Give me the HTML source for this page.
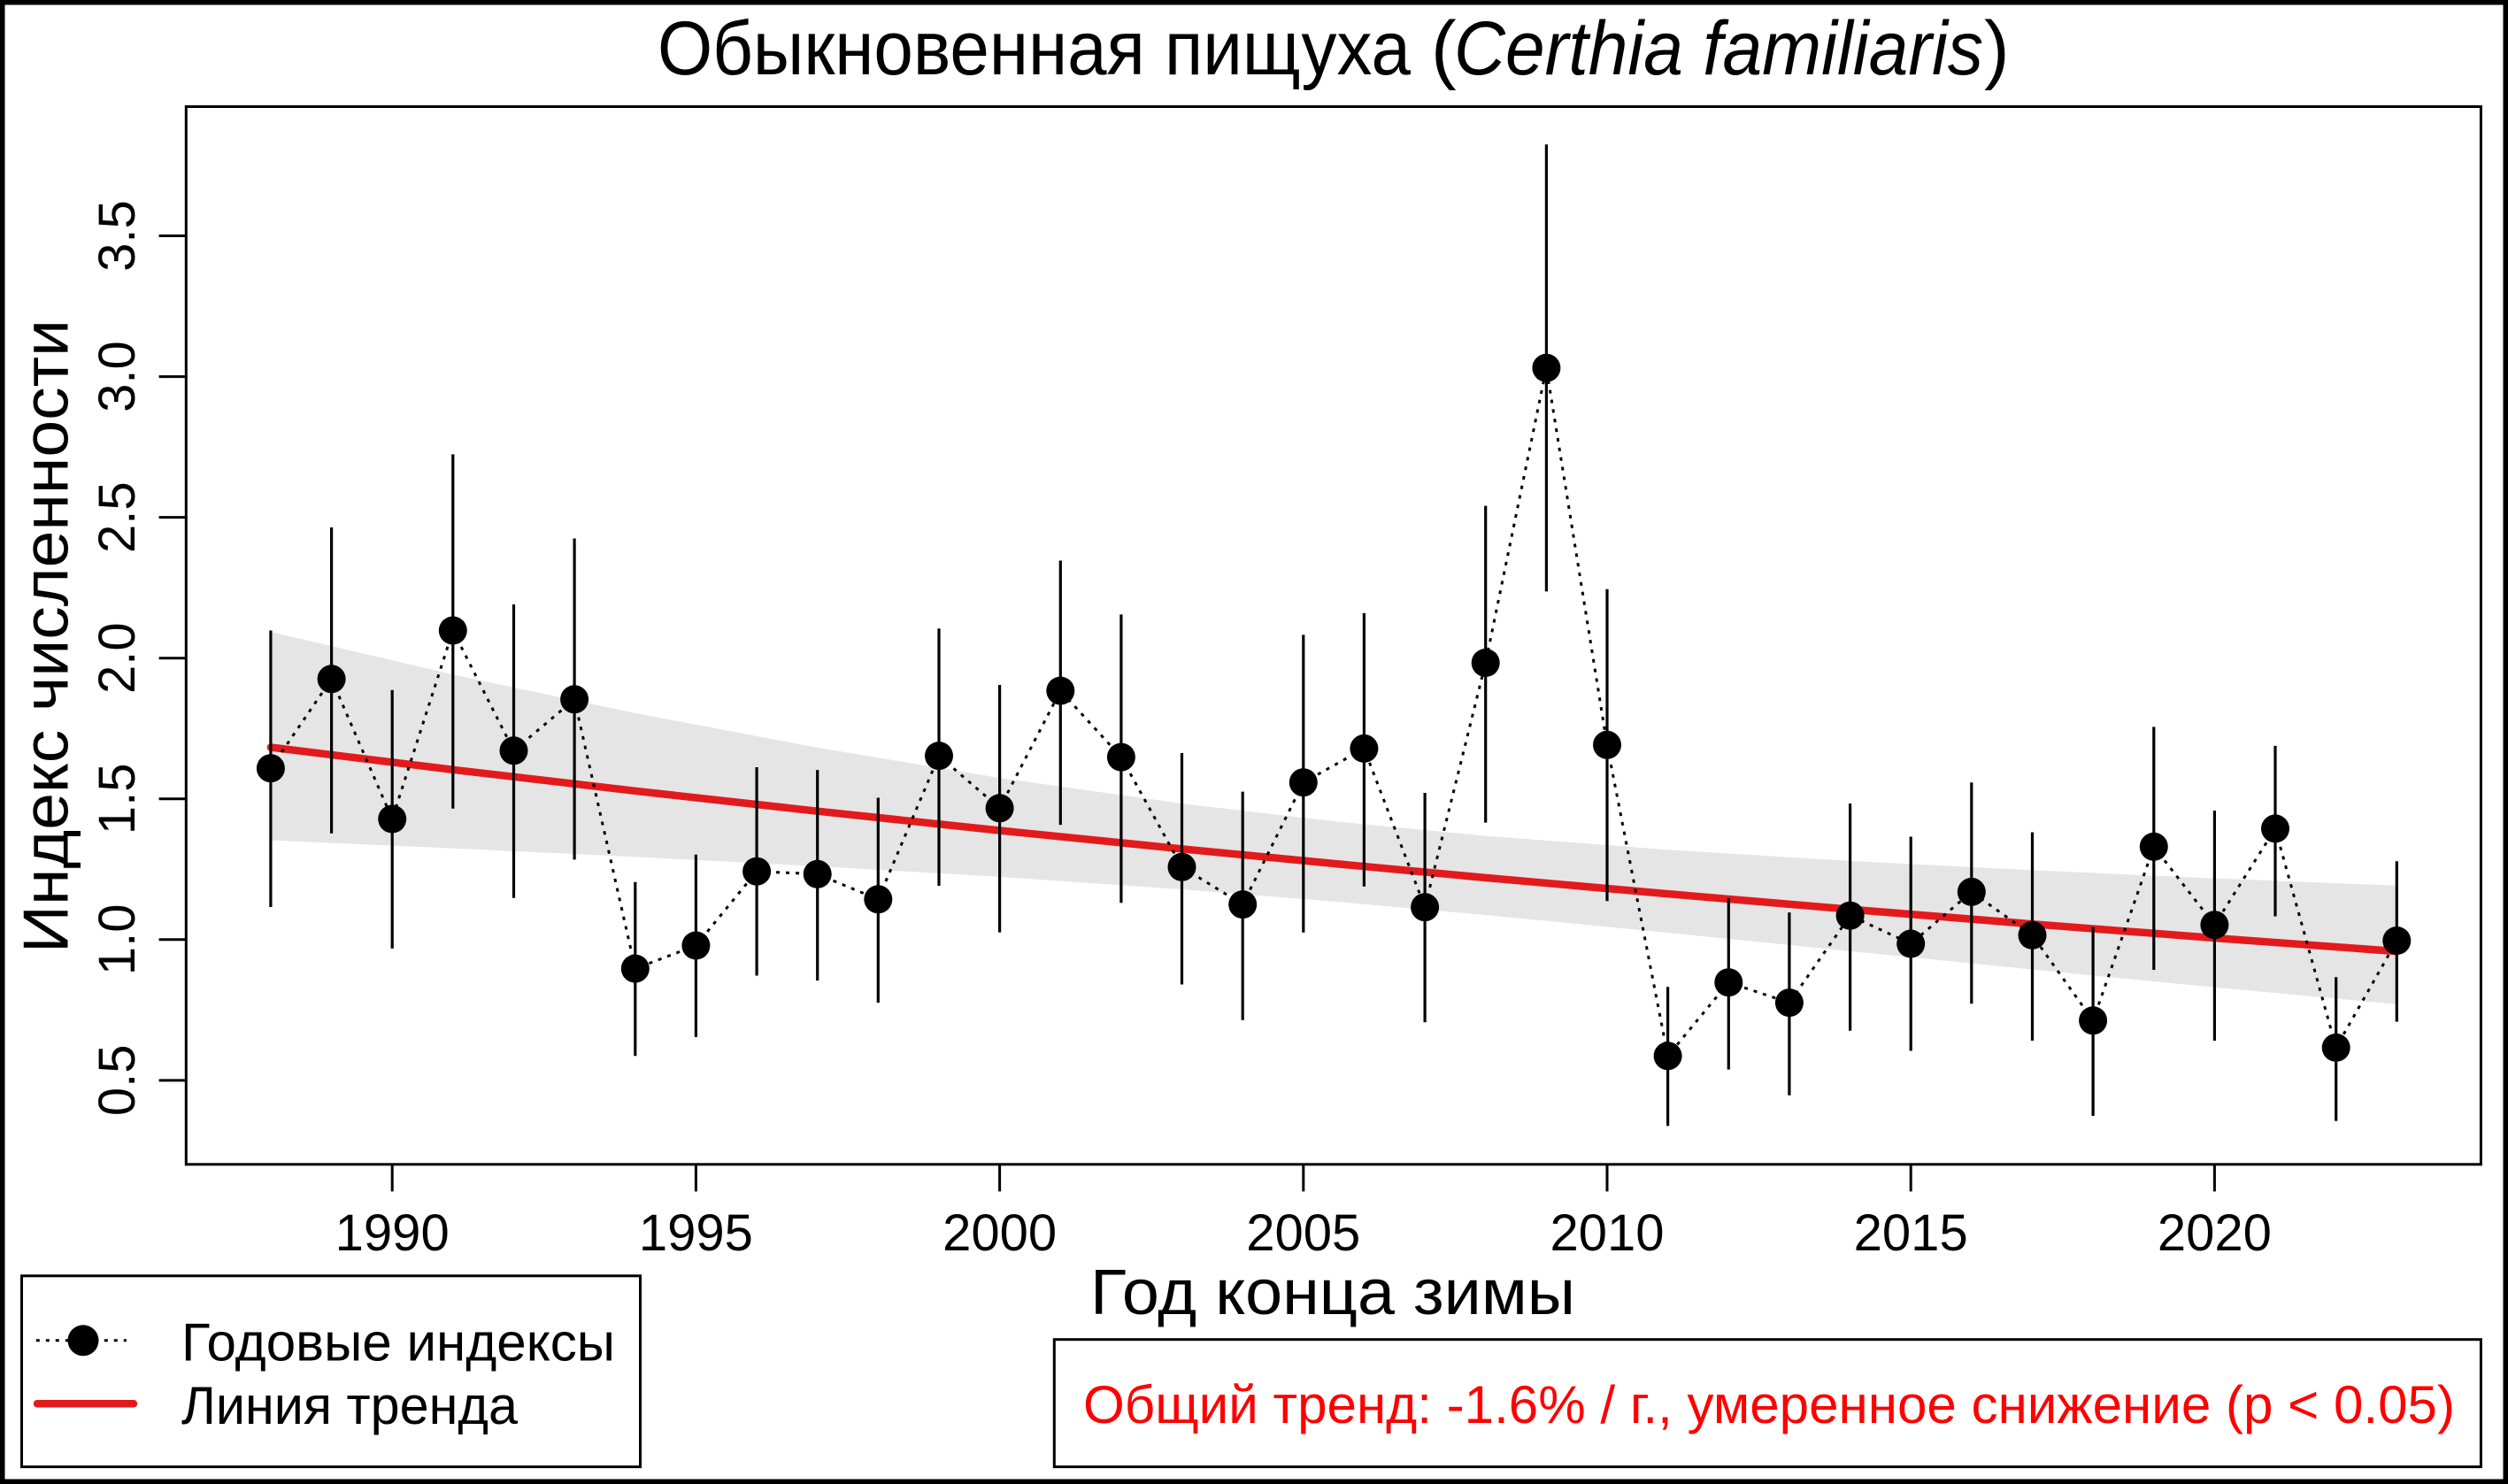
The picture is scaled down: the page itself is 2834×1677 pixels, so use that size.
<!DOCTYPE html>
<html><head><meta charset="utf-8"><style>
html,body{margin:0;padding:0;background:#fff;}
svg{display:block;}
text{font-family:"Liberation Sans",Arial,sans-serif;}
</style></head><body>
<svg width="2834" height="1677" viewBox="0 0 2834 1677" xmlns="http://www.w3.org/2000/svg">
<rect x="0" y="0" width="2834" height="1677" fill="#fff"/>
<!-- confidence band -->
<polygon fill="#E5E5E5" points="305.9,714.05 511.8,762.25 717.8,805.9 923.7,844.9 1129.6,879.1 1335.5,908.1 1507.1,928.1 1678.7,944.6 1884.6,960.3 2090.6,972.9 2296.5,983.4 2502.4,992.6 2708.3,1000.8 2708.3,1134.8 2502.4,1115.7 2296.5,1095.6 2090.6,1074.9 1884.6,1054.0 1678.7,1034.0 1507.1,1018.7 1335.5,1005.0 1129.6,990.9 923.7,978.9 717.8,968.3 511.8,958.6 305.9,949.5"/>
<!-- trend -->
<polyline fill="none" stroke="#E31A1C" stroke-width="8.5" stroke-linecap="round" stroke-linejoin="round" points="305.9,844.5 511.8,869.8 717.8,893.8 923.7,916.7 1129.6,938.5 1335.5,959.3 1507.1,975.9 1678.7,991.9 1884.6,1010.1 2090.6,1027.6 2296.5,1044.2 2502.4,1060.0 2708.3,1075.1"/>
<!-- error bars -->
<g stroke="#000" stroke-width="3.2">
<line x1="305.9" y1="712.5" x2="305.9" y2="1025"/>
<line x1="374.6" y1="596" x2="374.6" y2="941.8"/>
<line x1="443.2" y1="779.8" x2="443.2" y2="1071.9"/>
<line x1="511.8" y1="513.4" x2="511.8" y2="913.7"/>
<line x1="580.5" y1="683" x2="580.5" y2="1014.8"/>
<line x1="649.1" y1="608.5" x2="649.1" y2="971.4"/>
<line x1="717.8" y1="996.8" x2="717.8" y2="1193.3"/>
<line x1="786.4" y1="965.8" x2="786.4" y2="1171.9"/>
<line x1="855.1" y1="867" x2="855.1" y2="1102.5"/>
<line x1="923.7" y1="870.1" x2="923.7" y2="1108.1"/>
<line x1="992.3" y1="901.5" x2="992.3" y2="1133.1"/>
<line x1="1061" y1="710.2" x2="1061" y2="1001"/>
<line x1="1129.6" y1="774" x2="1129.6" y2="1053.6"/>
<line x1="1198.3" y1="633.5" x2="1198.3" y2="932.1"/>
<line x1="1266.9" y1="694.4" x2="1266.9" y2="1020.2"/>
<line x1="1335.5" y1="851" x2="1335.5" y2="1112.5"/>
<line x1="1404.2" y1="894.6" x2="1404.2" y2="1152.8"/>
<line x1="1472.8" y1="717.4" x2="1472.8" y2="1053.8"/>
<line x1="1541.4" y1="692.9" x2="1541.4" y2="1001.8"/>
<line x1="1610.1" y1="896" x2="1610.1" y2="1155.3"/>
<line x1="1678.7" y1="571.6" x2="1678.7" y2="929.6"/>
<line x1="1747.4" y1="163.3" x2="1747.4" y2="668.4"/>
<line x1="1816" y1="665.8" x2="1816" y2="1018.3"/>
<line x1="1884.6" y1="1115.3" x2="1884.6" y2="1272.4"/>
<line x1="1953.3" y1="1014.8" x2="1953.3" y2="1208.6"/>
<line x1="2021.9" y1="1031.1" x2="2021.9" y2="1237.7"/>
<line x1="2090.6" y1="908" x2="2090.6" y2="1164.7"/>
<line x1="2159.2" y1="945.5" x2="2159.2" y2="1187.5"/>
<line x1="2227.8" y1="884.2" x2="2227.8" y2="1134.2"/>
<line x1="2296.5" y1="940.5" x2="2296.5" y2="1176"/>
<line x1="2365.1" y1="1047.5" x2="2365.1" y2="1261"/>
<line x1="2433.8" y1="821.4" x2="2433.8" y2="1096"/>
<line x1="2502.4" y1="916" x2="2502.4" y2="1176"/>
<line x1="2571" y1="842.9" x2="2571" y2="1035.5"/>
<line x1="2639.7" y1="1104.3" x2="2639.7" y2="1266.8"/>
<line x1="2708.3" y1="973.2" x2="2708.3" y2="1154.6"/>
</g>
<!-- dotted connecting line -->
<polyline fill="none" stroke="#000" stroke-width="3" stroke-dasharray="4 7" points="305.9,868.2 374.6,767.3 443.2,925.5 511.8,712.5 580.5,848.3 649.1,790.3 717.8,1094.6 786.4,1068.5 855.1,984.7 923.7,987.8 992.3,1016.3 1061,854.1 1129.6,913.3 1198.3,780.6 1266.9,855.6 1335.5,979.8 1404.2,1022.1 1472.8,884.2 1541.4,845.9 1610.1,1025.2 1678.7,749 1747.4,415.8 1816,841.8 1884.6,1193.3 1953.3,1110.2 2021.9,1133.1 2090.6,1034.7 2159.2,1066.5 2227.8,1007.9 2296.5,1056.9 2365.1,1153.3 2433.8,956.8 2502.4,1045.2 2571,936.4 2639.7,1183.9 2708.3,1063"/>
<!-- points -->
<g fill="#000">
<circle cx="305.9" cy="868.2" r="16"/>
<circle cx="374.6" cy="767.3" r="16"/>
<circle cx="443.2" cy="925.5" r="16"/>
<circle cx="511.8" cy="712.5" r="16"/>
<circle cx="580.5" cy="848.3" r="16"/>
<circle cx="649.1" cy="790.3" r="16"/>
<circle cx="717.8" cy="1094.6" r="16"/>
<circle cx="786.4" cy="1068.5" r="16"/>
<circle cx="855.1" cy="984.7" r="16"/>
<circle cx="923.7" cy="987.8" r="16"/>
<circle cx="992.3" cy="1016.3" r="16"/>
<circle cx="1061" cy="854.1" r="16"/>
<circle cx="1129.6" cy="913.3" r="16"/>
<circle cx="1198.3" cy="780.6" r="16"/>
<circle cx="1266.9" cy="855.6" r="16"/>
<circle cx="1335.5" cy="979.8" r="16"/>
<circle cx="1404.2" cy="1022.1" r="16"/>
<circle cx="1472.8" cy="884.2" r="16"/>
<circle cx="1541.4" cy="845.9" r="16"/>
<circle cx="1610.1" cy="1025.2" r="16"/>
<circle cx="1678.7" cy="749" r="16"/>
<circle cx="1747.4" cy="415.8" r="16"/>
<circle cx="1816" cy="841.8" r="16"/>
<circle cx="1884.6" cy="1193.3" r="16"/>
<circle cx="1953.3" cy="1110.2" r="16"/>
<circle cx="2021.9" cy="1133.1" r="16"/>
<circle cx="2090.6" cy="1034.7" r="16"/>
<circle cx="2159.2" cy="1066.5" r="16"/>
<circle cx="2227.8" cy="1007.9" r="16"/>
<circle cx="2296.5" cy="1056.9" r="16"/>
<circle cx="2365.1" cy="1153.3" r="16"/>
<circle cx="2433.8" cy="956.8" r="16"/>
<circle cx="2502.4" cy="1045.2" r="16"/>
<circle cx="2571" cy="936.4" r="16"/>
<circle cx="2639.7" cy="1183.9" r="16"/>
<circle cx="2708.3" cy="1063" r="16"/>
</g>
<!-- plot box -->
<rect x="210.3" y="120.5" width="2593.1" height="1195.3" fill="none" stroke="#000" stroke-width="3"/>
<!-- x ticks -->
<g stroke="#000" stroke-width="3">
<line x1="443.2" y1="1315.8" x2="443.2" y2="1346.4"/>
<line x1="786.4" y1="1315.8" x2="786.4" y2="1346.4"/>
<line x1="1129.6" y1="1315.8" x2="1129.6" y2="1346.4"/>
<line x1="1472.8" y1="1315.8" x2="1472.8" y2="1346.4"/>
<line x1="1816" y1="1315.8" x2="1816" y2="1346.4"/>
<line x1="2159.2" y1="1315.8" x2="2159.2" y2="1346.4"/>
<line x1="2502.4" y1="1315.8" x2="2502.4" y2="1346.4"/>
<!-- y ticks -->
<line x1="179.6" y1="1220.85" x2="210.3" y2="1220.85"/>
<line x1="179.6" y1="1061.8" x2="210.3" y2="1061.8"/>
<line x1="179.6" y1="902.75" x2="210.3" y2="902.75"/>
<line x1="179.6" y1="743.7" x2="210.3" y2="743.7"/>
<line x1="179.6" y1="584.65" x2="210.3" y2="584.65"/>
<line x1="179.6" y1="425.6" x2="210.3" y2="425.6"/>
<line x1="179.6" y1="266.55" x2="210.3" y2="266.55"/>
</g>
<!-- x tick labels -->
<g font-size="58" text-anchor="middle" fill="#000">
<text x="443.2" y="1413">1990</text>
<text x="786.4" y="1413">1995</text>
<text x="1129.6" y="1413">2000</text>
<text x="1472.8" y="1413">2005</text>
<text x="1816" y="1413">2010</text>
<text x="2159.2" y="1413">2015</text>
<text x="2502.4" y="1413">2020</text>
</g>
<!-- y tick labels -->
<g font-size="58" text-anchor="middle" fill="#000">
<text transform="translate(152,1220.85) rotate(-90)">0.5</text>
<text transform="translate(152,1061.8) rotate(-90)">1.0</text>
<text transform="translate(152,902.75) rotate(-90)">1.5</text>
<text transform="translate(152,743.7) rotate(-90)">2.0</text>
<text transform="translate(152,584.65) rotate(-90)">2.5</text>
<text transform="translate(152,425.6) rotate(-90)">3.0</text>
<text transform="translate(152,266.55) rotate(-90)">3.5</text>
</g>
<!-- axis titles -->
<text transform="translate(76.5,719) rotate(-90)" font-size="72.5" text-anchor="middle" fill="#000" textLength="716" lengthAdjust="spacingAndGlyphs">Индекс численности</text>
<text x="1232" y="1485" font-size="72.5" fill="#000" textLength="548" lengthAdjust="spacingAndGlyphs">Год конца зимы</text>
<!-- title -->
<text x="743" y="84" font-size="86" fill="#000" textLength="851" lengthAdjust="spacingAndGlyphs">Обыкновенная пищуха</text>
<text x="1617" y="84" font-size="86" fill="#000">(</text>
<text x="1643" y="84" font-size="86" font-style="italic" fill="#000" textLength="598" lengthAdjust="spacingAndGlyphs">Certhia familiaris</text>
<text x="2242" y="84" font-size="86" fill="#000">)</text>
<!-- legend -->
<rect x="24.5" y="1441.8" width="699" height="215.8" fill="#fff" stroke="#000" stroke-width="3"/>
<line x1="40.8" y1="1514.8" x2="142.9" y2="1514.8" stroke="#000" stroke-width="3" stroke-dasharray="4 7"/>
<circle cx="94" cy="1514.8" r="17.5" fill="#000"/>
<line x1="42" y1="1586.2" x2="151" y2="1586.2" stroke="#E31A1C" stroke-width="8.5" stroke-linecap="round"/>
<text x="205" y="1537.7" font-size="60" fill="#000" textLength="490" lengthAdjust="spacingAndGlyphs">Годовые индексы</text>
<text x="205" y="1609" font-size="60" fill="#000" textLength="380" lengthAdjust="spacingAndGlyphs">Линия тренда</text>
<!-- trend box -->
<rect x="1191.3" y="1513.7" width="1612.1" height="143.9" fill="#fff" stroke="#000" stroke-width="3"/>
<text x="1224" y="1608" font-size="60" fill="#FF0000" textLength="1550" lengthAdjust="spacingAndGlyphs">Общий тренд: -1.6% / г., умеренное снижение (p &lt; 0.05)</text>
<!-- outer border -->
<rect x="0" y="0" width="2834" height="1677" fill="none" stroke="#000" stroke-width="11"/>
</svg>
</body></html>
